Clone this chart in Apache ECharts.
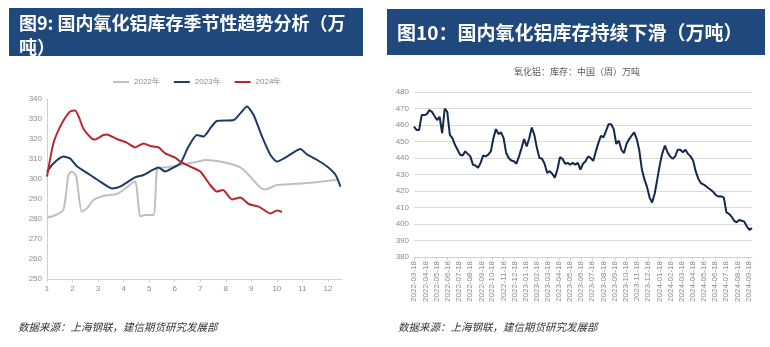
<!DOCTYPE html>
<html><head><meta charset="utf-8">
<script src="https://cdn.jsdelivr.net/npm/echarts@6/dist/echarts.min.js"></script>
<style>html,body{margin:0;padding:0;background:#fff}#c{width:770px;height:347px}</style>
</head><body><div id="c"></div>
<script>
// ---------- Left chart (seasonal, month position on x) ----------
const seasonalTicks = [1,2,3,4,5,6,7,8,9,10,11,12];
const months2022 = [1.0,1.25,1.64,1.84,1.97,2.14,2.36,2.56,2.82,3.21,3.73,3.99,4.45,4.52,4.65,4.84,5.17,5.3,5.43,5.8,6.22,6.74,7.2,7.78,8.57,8.96,9.35,9.55,10.0,10.66,11.44,12.1,12.42];
const values2022 = [280.8,281.5,284.5,302,303.7,301.5,283.7,285.3,289.5,291.5,292.5,294.5,298.7,295,281.2,282,282,304.5,305.5,306,307,308.2,309.5,308.7,305.8,301.2,295.7,294.8,297,297.5,298.2,299.2,299.8];
const months2023 = [1.0,1.25,1.64,1.9,2.16,2.69,3.08,3.54,3.86,4.45,4.78,5.37,5.63,5.89,6.22,6.54,6.87,7.13,7.39,7.65,8.31,8.57,8.83,9.09,9.42,9.75,10.0,10.4,10.92,11.18,11.58,11.97,12.3,12.49];
const values2023 = [303.7,307.8,311.2,310.3,306.5,302,298.7,295.3,296.2,300.8,302,305.7,303.7,305.3,307.8,316.2,322,321.2,325.3,329,329.5,332.8,336.2,332,321.2,312,308.7,311.2,315,312.3,309.5,306.2,302,296.2];
const months2024 = [1.0,1.25,1.58,1.9,2.1,2.27,2.42,2.75,2.88,3.21,3.34,3.73,4.12,4.45,4.78,5.04,5.37,5.63,6.02,6.22,6.61,7.0,7.39,7.65,7.89,8.24,8.57,8.9,9.29,9.75,10.0,10.2];
const values2024 = [301.2,317.8,327.8,333.7,334.3,330.3,325.3,320.3,319.8,322,322.3,320,318.2,315.8,317.8,316.5,315.8,312.8,310.7,308.7,306.2,303.7,297,293.7,294.5,289.8,290.8,287.5,286.2,282.8,284.2,283.5];
const seriesNames = ['2022年','2023年','2024年'];

// ---------- Right chart (weekly inventory) ----------
const weeklyStart = '2022-03-18';   // first weekly observation (Friday), then every 7 days
const weeklyValues = [459,457,457,466,466,466.5,469,468,465.5,463,465,455,470,468,454,452,448,445,442,441.5,
  444,442.5,441,436,435.5,434,437,441.5,441,442,444,452,457.5,454.5,455.5,452,443,440,438.5,438,
  436.5,441,446,451.5,447,452,458.5,454,446,440,439.5,436.5,431,432,430.5,428,433,440.5,439.5,436.5,
  437,436,437,436,437,433,436.5,438,441,440,438.2,444,449,453.5,452.5,456.5,460.5,460.5,457.5,448.5,
  450.5,445,443,448.5,451.5,453.5,455.5,451.5,444.5,433,427,422.5,416,413,418.5,427,436,443,
  447.5,443.5,441,439.5,441,445,445,443.5,445,442.5,441,438.5,432,427.5,424.8,424,423,421.7,420.6,419.2,
  417.3,416.6,416.8,416,407,406.2,404.5,402,401,402.4,402,401.4,398.5,396.4,397.5];
const weeklyTickLabels = ['2022-03-18','2022-04-18','2022-05-18','2022-06-18','2022-07-18','2022-08-18','2022-09-18','2022-10-18','2022-11-18','2022-12-18',
  '2023-01-18','2023-02-18','2023-03-18','2023-04-18','2023-05-18','2023-06-18','2023-07-18','2023-08-18','2023-09-18','2023-10-18','2023-11-18','2023-12-18',
  '2024-01-18','2024-02-18','2024-03-18','2024-04-18','2024-05-18','2024-06-18','2024-07-18','2024-08-18','2024-09-18'];

const DAY = 86400000;
function utc(s){ const p=s.split('-').map(Number); return Date.UTC(p[0],p[1]-1,p[2]); }
function fmtDay(off){ const d=new Date(utc(weeklyStart)+Math.round(off)*DAY); const z=n=>(n<10?'0':'')+n;
  return d.getUTCFullYear()+'-'+z(d.getUTCMonth()+1)+'-'+z(d.getUTCDate()); }
const dayOf = s => Math.round((utc(s)-utc(weeklyStart))/DAY);   // days since first observation
const weeklyData = weeklyValues.map((v,i)=>[i*7, v]);
const endDay = weeklyData[weeklyData.length-1][0];
const tickDays = weeklyTickLabels.map(dayOf);

const pair = (ms, vs) => ms.map((m,i)=>[m, vs[i]]);
const axisGray = '#8c8c8c';

const chart = echarts.init(document.getElementById('c'), null, {renderer:'canvas'});
chart.setOption({
  animation:false,
  backgroundColor:'#fff',
  graphic:[
    {type:'rect', shape:{x:9,y:8,width:354,height:48}, style:{fill:'#1F497D'}},
    {type:'text', x:19, y:11, style:{text:'图9: 国内氧化铝库存季节性趋势分析（万\n吨）', fill:'#fff', font:'bold 18px "Noto Sans CJK SC"', lineHeight:24}},
    {type:'rect', shape:{x:387,y:9,width:378,height:46}, style:{fill:'#1F497D'}},
    {type:'text', x:397, y:33, style:{text:'图10：国内氧化铝库存持续下滑（万吨）', fill:'#fff', font:'bold 19px "Noto Sans CJK SC"', textVerticalAlign:'middle'}},
    {type:'text', x:577, y:72, style:{text:'氧化铝：库存：中国（周）万吨', fill:'#595959', font:'9px "Noto Sans CJK SC"', textAlign:'center', textVerticalAlign:'middle'}},
    {type:'text', x:18, y:327, style:{text:'数据来源：上海钢联，建信期货研究发展部', fill:'#333', font:'italic 10.5px "Noto Sans CJK SC"', textVerticalAlign:'middle'}},
    {type:'text', x:398, y:327, style:{text:'数据来源：上海钢联，建信期货研究发展部', fill:'#333', font:'italic 10.5px "Noto Sans CJK SC"', textVerticalAlign:'middle'}}
  ],
  legend:{data:seriesNames, top:73, left:108, icon:'rect', itemWidth:16, itemHeight:2, itemGap:14,
    textStyle:{fontSize:8, color:axisGray, fontFamily:'Liberation Sans'}},
  grid:[
    {left:47, right:428, top:99, bottom:68},
    {left:414, right:18, top:92, bottom:90}
  ],
  xAxis:[
    {gridIndex:0, type:'value', min:1, max:12.55, interval:1,
      axisLine:{lineStyle:{color:'#d0d0d0'}}, axisTick:{show:true, length:3, lineStyle:{color:'#d0d0d0'}},
      splitLine:{show:false},
      axisLabel:{color:axisGray, fontSize:8, fontFamily:'Liberation Sans', margin:6, showMaxLabel:false,
        formatter:v=> seasonalTicks.includes(v) ? String(v) : ''}},
    {gridIndex:1, type:'value', min:0, max:endDay,
      axisLine:{lineStyle:{color:'#d0d0d0'}},
      axisTick:{show:true, length:3, lineStyle:{color:'#d0d0d0'}, customValues:tickDays},
      splitLine:{show:false},
      axisLabel:{rotate:90, color:axisGray, fontSize:8, fontFamily:'Liberation Sans', margin:4,
        customValues:tickDays, formatter:v=>fmtDay(v), hideOverlap:false}}
  ],
  yAxis:[
    {gridIndex:0, type:'value', min:250, max:340, interval:10,
      axisLine:{show:true, lineStyle:{color:'#d0d0d0'}}, axisTick:{show:false},
      splitLine:{show:false},
      axisLabel:{color:axisGray, fontSize:8, fontFamily:'Liberation Sans', margin:5}},
    {gridIndex:1, type:'value', min:380, max:480, interval:10,
      axisLine:{show:false}, axisTick:{show:false},
      splitLine:{lineStyle:{color:'#d9d9d9'}},
      axisLabel:{color:axisGray, fontSize:8, fontFamily:'Liberation Sans', margin:5}}
  ],
  series:[
    {name:'2022年', type:'line', xAxisIndex:0, yAxisIndex:0, data:pair(months2022, values2022), showSymbol:false, smooth:0.2,
      lineStyle:{color:'#BFBFBF', width:2}, itemStyle:{color:'#BFBFBF'}},
    {name:'2023年', type:'line', xAxisIndex:0, yAxisIndex:0, data:pair(months2023, values2023), showSymbol:false, smooth:0.2,
      lineStyle:{color:'#1F3A68', width:2}, itemStyle:{color:'#1F3A68'}},
    {name:'2024年', type:'line', xAxisIndex:0, yAxisIndex:0, data:pair(months2024, values2024), showSymbol:false, smooth:0.2,
      lineStyle:{color:'#B8272E', width:2}, itemStyle:{color:'#B8272E'}},
    {name:'氧化铝库存', type:'line', xAxisIndex:1, yAxisIndex:1, data:weeklyData, showSymbol:false,
      lineStyle:{color:'#14284B', width:2}, itemStyle:{color:'#14284B'}}
  ]
});
</script>
</body></html>
